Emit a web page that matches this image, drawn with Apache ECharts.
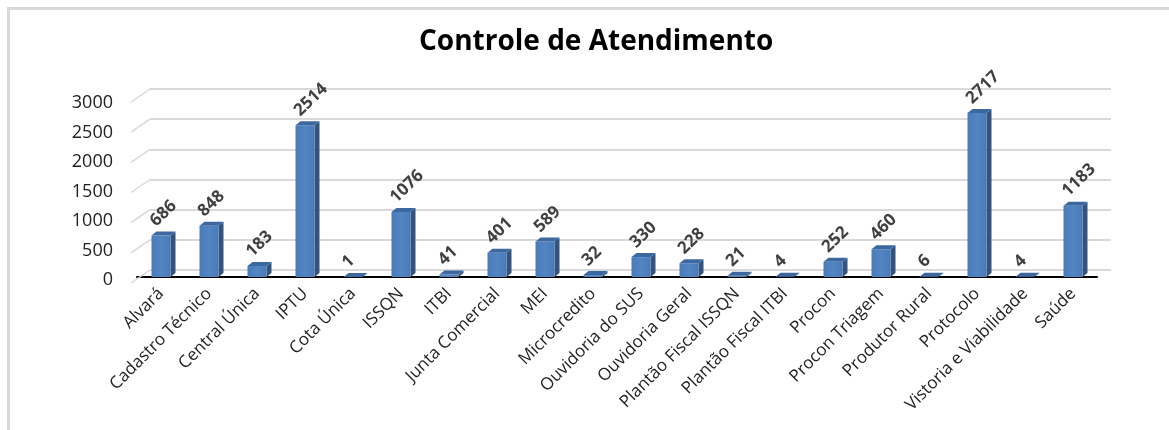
<!DOCTYPE html>
<html>
<head>
<meta charset="utf-8">
<script src="https://cdn.jsdelivr.net/npm/echarts@6/dist/echarts.min.js"></script>
<style>
  html, body { margin: 0; padding: 0; background: #fff; }
  #main { width: 1169px; height: 430px; }
</style>
</head>
<body>
<div id="main"></div>
<script>
// dados do gráfico
var categorias = ['Alvará', 'Cadastro Técnico', 'Central Única', 'IPTU', 'Cota Única', 'ISSQN', 'ITBI',
  'Junta Comercial', 'MEI', 'Microcredito', 'Ouvidoria do SUS', 'Ouvidoria Geral', 'Plantão Fiscal ISSQN',
  'Plantão Fiscal ITBI', 'Procon', 'Procon Triagem', 'Produtor Rural', 'Protocolo', 'Vistoria e Viabilidade', 'Saúde'];
var atendimentos = [686, 848, 183, 2514, 1, 1076, 41, 401, 589, 32, 330, 228, 21, 4, 252, 460, 6, 2717, 4, 1183];
var ticksY = [0, 500, 1000, 1500, 2000, 2500, 3000];

var chart = echarts.init(document.getElementById('main'));

// barra "3D": frente, lateral e topo + rótulo inclinado
function barra3d(params, api) {
  var base = api.coord([api.value(0), 0]);
  var topo = api.coord([api.value(0), api.value(1)]);
  var w = 19, dx = 5, dy = 4;
  var x0 = base[0] - w / 2, x1 = x0 + w;
  var yb = base[1], yt = topo[1];
  return {
    type: 'group',
    children: [
      { type: 'polygon', shape: { points: [[x1, yb], [x1 + dx, yb - dy], [x1 + dx, yt - dy], [x1, yt]] },
        style: { fill: '#34547e' } },
      { type: 'rect', shape: { x: x0, y: yt, width: w, height: yb - yt },
        style: { fill: new echarts.graphic.LinearGradient(0, 0, 1, 0, [
          { offset: 0, color: '#4a7bb8' }, { offset: 0.5, color: '#5185c4' }, { offset: 1, color: '#4a7bb8' }]) } },
      { type: 'polygon', shape: { points: [[x0, yt], [x1, yt], [x1 + dx, yt - dy], [x0 + dx, yt - dy]] },
        style: { fill: '#3d679f' } },
      { type: 'text', x: base[0] - 8, y: yt - dy - 8, rotation: 44 * Math.PI / 180,
        style: { text: String(api.value(1)), x: 0, y: 0, fill: '#404040',
          font: 'bold 17px "Open Sans"', align: 'left', verticalAlign: 'middle' } }
    ]
  };
}

// linhas inclinadas da parede do fundo (lado esquerdo)
function diagonal(params, api) {
  var cs = params.coordSys;
  var p = api.coord([0, api.value(1)]);
  return {
    type: 'line',
    shape: { x1: cs.x - 19, y1: p[1] + 13, x2: cs.x, y2: p[1] },
    style: { stroke: '#d9d9d9', lineWidth: 1.5 }
  };
}

var option = {
  backgroundColor: '#fff',
  animation: false,
  title: {
    text: 'Controle de Atendimento',
    left: 414, top: 23,
    textStyle: { fontFamily: 'Open Sans', fontWeight: 'bold', fontSize: 28, color: '#000' }
  },
  graphic: [{
    type: 'rect', z: -10,
    shape: { x: 8.5, y: 8.5, width: 1300, height: 600 },
    style: { fill: 'none', stroke: '#d9d9d9', lineWidth: 3 }
  }],
  grid: [
    { left: 137, top: 96, width: 960, height: 181 },   // frente (barras)
    { left: 150, top: 89, width: 961, height: 181 },   // fundo (linhas de grade)
    { left: 137, top: 103, width: 960, height: 177 }   // rótulos do eixo y
  ],
  xAxis: [
    { type: 'category', gridIndex: 0, data: categorias,
      axisLine: { lineStyle: { color: '#000', width: 2 } }, axisTick: { show: false },
      axisLabel: { interval: 0, rotate: 45, margin: 14, fontFamily: 'Open Sans', fontSize: 17, color: '#222' } },
    { type: 'category', gridIndex: 1, data: categorias, show: false },
    { type: 'category', gridIndex: 2, data: categorias, show: false }
  ],
  yAxis: [
    { type: 'value', gridIndex: 0, min: 0, max: 3000, interval: 500,
      axisLabel: { show: false }, splitLine: { show: false }, axisLine: { show: false } },
    { type: 'value', gridIndex: 1, min: 0, max: 3000, interval: 500,
      axisLabel: { show: false }, axisLine: { show: false },
      splitLine: { lineStyle: { color: '#d9d9d9', width: 2 } } },
    { type: 'value', gridIndex: 2, min: 0, max: 3000, interval: 500,
      axisLine: { show: false }, splitLine: { show: false }, axisTick: { show: false },
      axisLabel: { margin: 24, fontFamily: 'Open Sans', fontSize: 18, color: '#222',
        formatter: function (v) { return String(v); } } }
  ],
  series: [
    { type: 'custom', xAxisIndex: 1, yAxisIndex: 1, renderItem: diagonal, clip: false, z: 1,
      data: ticksY.map(function (v) { return [0, v]; }) },
    { type: 'custom', xAxisIndex: 0, yAxisIndex: 0, renderItem: barra3d, clip: false, z: 5,
      data: atendimentos.map(function (v, i) { return [i, v]; }) }
  ]
};

chart.setOption(option);
</script>
</body>
</html>
